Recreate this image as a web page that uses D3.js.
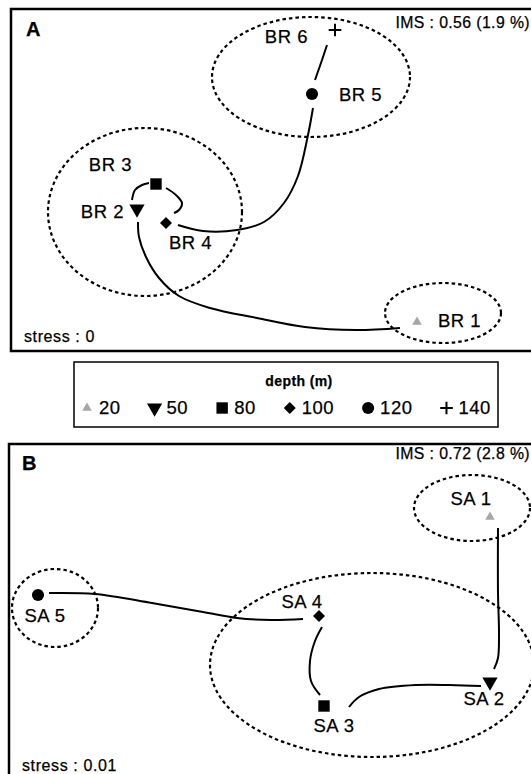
<!DOCTYPE html>
<html>
<head>
<meta charset="utf-8">
<script src="https://cdn.jsdelivr.net/npm/d3@7"></script>
<style>
  body { margin: 0; background: #fff; }
  svg { display: block; font-family: "Liberation Sans", Arial, sans-serif; }
  text { stroke: #000; stroke-width: 0.25; }
</style>
</head>
<body>
<script>
// ---- data (MDS configurations, panel units) ----
const depths = [20, 50, 80, 100, 120, 140];

const brNames = ["BR 1", "BR 2", "BR 3", "BR 4", "BR 5", "BR 6"];
const brDepth = [20, 50, 80, 100, 120, 140];
const brX = [406, 126, 145, 155, 301, 324];
const brY = [29, 142, 167, 128, 257, 321];

const saNames = ["SA 1", "SA 2", "SA 3", "SA 4", "SA 5"];
const saDepth = [20, 50, 80, 100, 120];
const saX = [481, 481, 315, 310, 29];
const saY = [273, 108, 84, 174, 195];

// cluster ellipses: [cx, cy, rx, ry]
const brGroups = [[300, 274, 99, 60], [134, 139, 97, 84], [432, 38, 58, 30]];
const saGroups = [[463, 282, 58, 33], [46, 182, 43, 39], [363, 125, 162, 92]];

// trajectory between successive depths
const brPaths = [
  [[316, 306], [311, 291], [304, 271]],
  [[302, 243], [297, 216], [287, 175], [273, 148], [253, 129], [226, 121], [192, 120], [167, 126]],
  [[155, 163], [165, 156], [171, 148], [168, 141], [163, 138]],
  [[121, 151], [124, 161], [131, 166], [138, 168]],
  [[127, 129], [128, 114], [135, 94], [148, 73], [168, 55], [199, 43], [246, 33], [294, 24], [345, 21], [389, 23]]
];
const saPaths = [
  [[40, 197], [86, 196], [143, 187], [194, 178], [228, 172], [262, 170], [294, 171]],
  [[313, 163], [306, 149], [301, 129], [302, 109], [311, 95]],
  [[340, 83], [350, 93], [370, 101], [407, 105], [441, 105], [472, 104]],
  [[485, 121], [489, 132], [490, 156], [489, 197], [489, 262]]
];

const brIms = "IMS : 0.56 (1.9 %)";
const saIms = "IMS : 0.72 (2.8 %)";
const brStress = "stress : 0";
const saStress = "stress : 0.01";

// label placement (layout only)
const brLabelPos = [["start", 21, 5], ["end", -13, 9], ["end", -24, -13], ["start", 3, 26], ["start", 27, 7], ["end", -27, 13]];
const saLabelPos = [["middle", -19, -12], ["middle", -6, 23], ["middle", 10, 26], ["middle", -17, -8], ["middle", 7, 27]];

const W = 531, H = 774;
const svg = d3.select("body").append("svg").attr("width", W).attr("height", H);

const plus = {
  draw(ctx, size) {
    const r = Math.sqrt(size) / 2;
    ctx.moveTo(-r, 0); ctx.lineTo(r, 0);
    ctx.moveTo(0, -r); ctx.lineTo(0, r);
  }
};

function marker(g, depth, cx, cy) {
  const sym = d3.symbol();
  let el;
  if (depth === 20) {
    el = g.append("path").attr("d", sym.type(d3.symbolTriangle).size(40)())
      .attr("fill", "#a6a6a6").attr("transform", `translate(${cx},${cy})`);
  } else if (depth === 50) {
    el = g.append("path").attr("d", sym.type(d3.symbolTriangle).size(100)())
      .attr("transform", `translate(${cx},${cy}) rotate(180)`);
  } else if (depth === 80) {
    el = g.append("path").attr("d", sym.type(d3.symbolSquare).size(130)())
      .attr("transform", `translate(${cx},${cy})`);
  } else if (depth === 100) {
    el = g.append("path").attr("d", sym.type(d3.symbolSquare).size(72)())
      .attr("transform", `translate(${cx},${cy}) rotate(45)`);
  } else if (depth === 120) {
    el = g.append("path").attr("d", sym.type(d3.symbolCircle).size(115)())
      .attr("transform", `translate(${cx},${cy})`);
  } else {
    el = g.append("path").attr("d", sym.type(plus).size(160)())
      .attr("fill", "none").attr("stroke", "#000").attr("stroke-width", 2)
      .attr("transform", `translate(${cx},${cy})`);
  }
  if (depth !== 20 && depth !== 140) el.attr("fill", "#000");
}

function panel(opts) {
  const { x, y, names, dep, px, py, groups, paths, labelPos } = opts;
  const g = svg.append("g");

  g.append("rect")
    .attr("x", x(0)).attr("y", y(y.domain()[1]))
    .attr("width", x(540) - x(0)).attr("height", y(0) - y(y.domain()[1]))
    .attr("fill", "none").attr("stroke", "#000").attr("stroke-width", 2.5);

  g.selectAll("ellipse").data(groups).join("ellipse")
    .attr("cx", d => x(d[0])).attr("cy", d => y(d[1]))
    .attr("rx", d => x(d[0] + d[2]) - x(d[0]))
    .attr("ry", d => y(d[1] - d[3]) - y(d[1]))
    .attr("fill", "none").attr("stroke", "#000")
    .attr("stroke-width", 2.2).attr("stroke-dasharray", "3.5,3");

  const line = d3.line().x(d => x(d[0])).y(d => y(d[1])).curve(d3.curveCatmullRom.alpha(0.5));
  g.selectAll("path.traj").data(paths).join("path")
    .attr("class", "traj").attr("d", line)
    .attr("fill", "none").attr("stroke", "#000").attr("stroke-width", 2);

  names.forEach((n, i) => {
    const cx = x(px[i]), cy = y(py[i]);
    marker(g, dep[i], cx, cy);
    const lp = labelPos[i];
    g.append("text").attr("x", cx + lp[1]).attr("y", cy + lp[2])
      .attr("text-anchor", lp[0]).attr("font-size", 18.5)
      .attr("letter-spacing", 0.5).text(n);
  });

  g.append("text").attr("x", opts.tagX).attr("y", opts.tagY)
    .attr("font-size", 20).attr("font-weight", "bold").text(opts.tag);
  g.append("text").attr("x", 530).attr("y", opts.imsY)
    .attr("text-anchor", "end").attr("font-size", 15.8)
    .attr("letter-spacing", 0.4).text(opts.ims);
  g.append("text").attr("x", opts.stressX).attr("y", opts.stressY)
    .attr("font-size", 16).attr("letter-spacing", 0.6).text(opts.stress);
}

panel({
  x: d3.scaleLinear([0, 520], [11, 531]),
  y: d3.scaleLinear([0, 342], [351, 9]),
  names: brNames, dep: brDepth, px: brX, py: brY,
  groups: brGroups, paths: brPaths, labelPos: brLabelPos,
  tag: "A", tagX: 26, tagY: 36,
  ims: brIms, imsY: 28,
  stress: brStress, stressX: 24, stressY: 342
});

panel({
  x: d3.scaleLinear([0, 522], [9, 531]),
  y: d3.scaleLinear([0, 346], [790, 444]),
  names: saNames, dep: saDepth, px: saX, py: saY,
  groups: saGroups, paths: saPaths, labelPos: saLabelPos,
  tag: "B", tagX: 22, tagY: 470,
  ims: saIms, imsY: 459,
  stress: saStress, stressX: 22, stressY: 771
});

// ---- legend ----
const lg = svg.append("g");
lg.append("rect").attr("x", 74).attr("y", 362).attr("width", 424).attr("height", 65)
  .attr("fill", "none").attr("stroke", "#000").attr("stroke-width", 1.5);
lg.append("text").attr("x", 299).attr("y", 386).attr("text-anchor", "middle")
  .attr("font-size", 14).attr("font-weight", "bold").attr("letter-spacing", 0.4)
  .text("depth (m)");

let lx = 87;
depths.forEach(d => {
  marker(lg, d, lx, 408);
  const t = lg.append("text").attr("x", lx + 12).attr("y", 414)
    .attr("font-size", 18.5).attr("letter-spacing", 0.5).text(d);
  lx += 12 + t.node().getComputedTextLength() + 34;
});
</script>
</body>
</html>
